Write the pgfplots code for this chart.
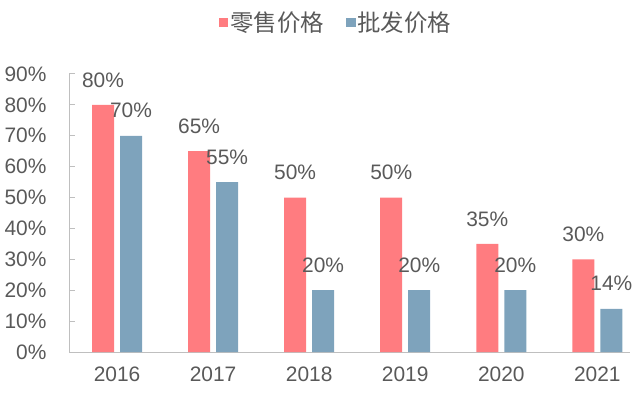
\documentclass[border=0pt]{standalone}
\usepackage{pgfplots}
\pgfplotsset{compat=1.18}
\usepackage{fontspec}
\setmainfont{Liberation Sans}
\newfontfamily\cjk{Noto Sans CJK SC}
\definecolor{redbar}{HTML}{FF7C80}
\definecolor{bluebar}{HTML}{7EA3BC}
\definecolor{txt}{HTML}{595959}
\definecolor{axisgray}{HTML}{BFBFBF}
\begin{document}
\begin{tikzpicture}
\useasboundingbox (0,0) rectangle (640bp,395bp);
\begin{axis}[
  at={(69bp,43bp)}, anchor=south west,
  scale only axis, width=561bp, height=278bp,
  ybar=6bp, bar width=22bp,
  xmin=-0.5, xmax=5.34, ymin=0, ymax=90,
  xtick=data, xticklabels={2016,2017,2018,2019,2020,2021},
  ytick={0,10,...,90},
  yticklabel={\pgfmathprintnumber{\tick}\%},
  /pgf/number format/assume math mode=true,
  axis x line=bottom, axis y line=left,
  axis line style={axisgray, line width=1bp, -},
  major x tick style={draw=none},
  major y tick style={axisgray, line width=1bp},
  tick align=inside, major tick length=6bp,
  tick label style={font=\fontsize{21}{24}\selectfont, text=txt},
  xticklabel style={yshift=-11bp},
  yticklabel style={xshift=-19bp},
  nodes near coords={\pgfmathprintnumber{\pgfplotspointmeta}\%},
  every node near coord/.append style={anchor=center, yshift=25bp, font=\fontsize{21}{24}\selectfont, text=txt},
  legend style={at={(0.476,1.185)}, anchor=center, draw=none, fill=none,
    font=\fontsize{23.5}{27}\selectfont\cjk, text=txt,
    /tikz/every even column/.append style={column sep=20bp}},
  legend columns=2,
  legend image code/.code={\fill[#1] (-1bp,-4.5bp) rectangle (8.5bp,5bp);},
]
\addplot[fill=redbar, draw=none] coordinates {(0,80) (1,65) (2,50) (3,50) (4,35) (5,30)};
\addplot[fill=bluebar, draw=none] coordinates {(0,70) (1,55) (2,20) (3,20) (4,20) (5,14)};
\legend{零售价格, 批发价格}
\end{axis}
\end{tikzpicture}
\end{document}
